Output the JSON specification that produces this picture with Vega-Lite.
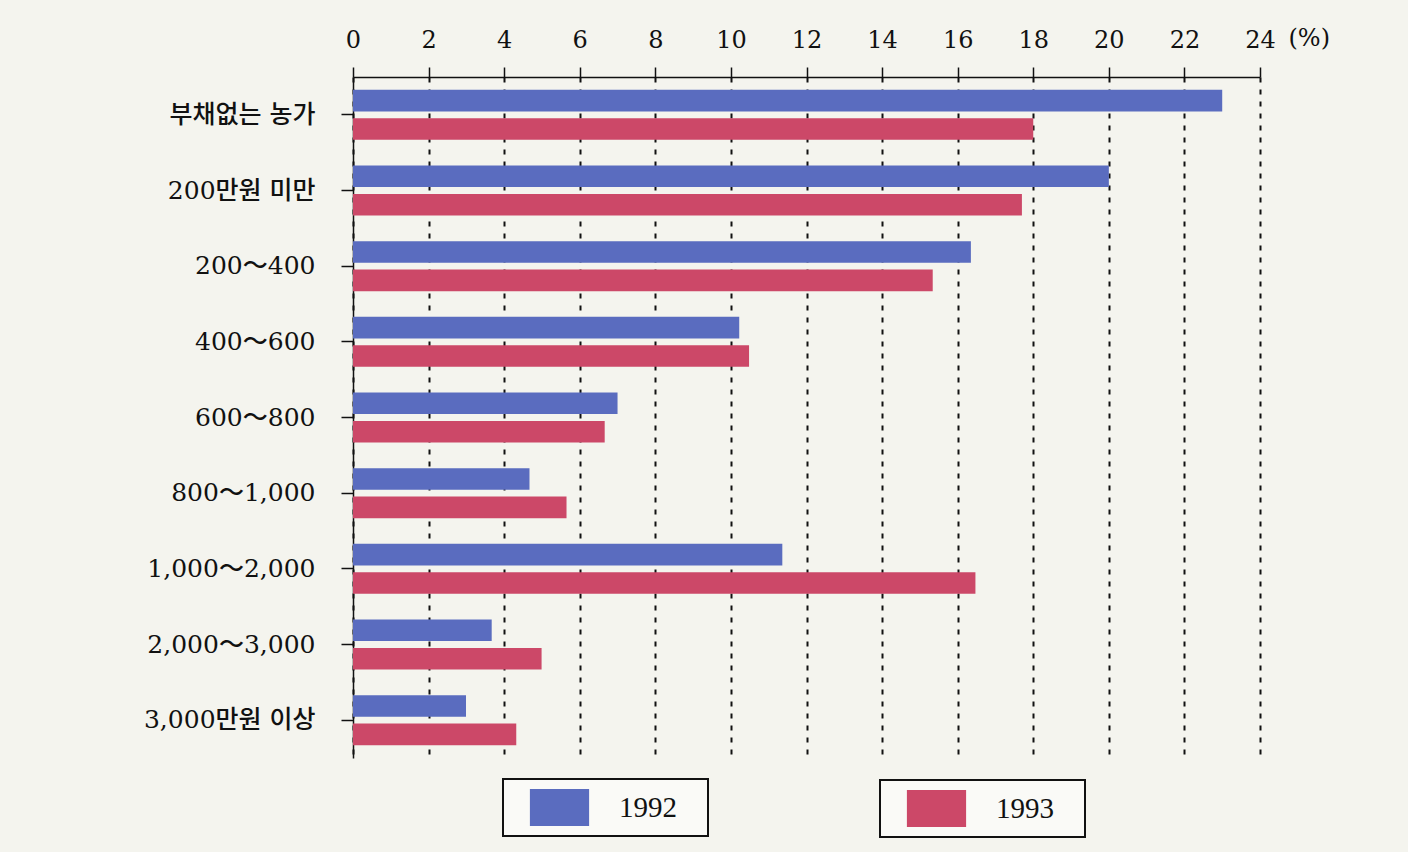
{
  "$schema": "https://vega.github.io/schema/vega-lite/v6.json",
  "width": 907,
  "height": 681,
  "autosize": {"type": "none"},
  "padding": {"left": 353, "top": 77, "right": 148, "bottom": 94},
  "background": "#f4f4ee",
  "config": {"view": {"stroke": null}},
  "data": {
    "values": [
      {"group": "부채없는 농가", "year": "1992", "pct": 23.0},
      {"group": "부채없는 농가", "year": "1993", "pct": 18.0},
      {"group": "200만원 미만", "year": "1992", "pct": 20.0},
      {"group": "200만원 미만", "year": "1993", "pct": 17.7},
      {"group": "200～400", "year": "1992", "pct": 16.35},
      {"group": "200～400", "year": "1993", "pct": 15.34},
      {"group": "400～600", "year": "1992", "pct": 10.22},
      {"group": "400～600", "year": "1993", "pct": 10.48},
      {"group": "600～800", "year": "1992", "pct": 7.0},
      {"group": "600～800", "year": "1993", "pct": 6.66},
      {"group": "800～1,000", "year": "1992", "pct": 4.67},
      {"group": "800～1,000", "year": "1993", "pct": 5.65},
      {"group": "1,000～2,000", "year": "1992", "pct": 11.36},
      {"group": "1,000～2,000", "year": "1993", "pct": 16.47},
      {"group": "2,000～3,000", "year": "1992", "pct": 3.67},
      {"group": "2,000～3,000", "year": "1993", "pct": 4.99},
      {"group": "3,000만원 이상", "year": "1992", "pct": 2.99},
      {"group": "3,000만원 이상", "year": "1993", "pct": 4.32}
    ]
  },
  "encoding": {
    "y": {
      "field": "group",
      "type": "nominal",
      "sort": ["부채없는 농가", "200만원 미만", "200～400", "400～600", "600～800", "800～1,000", "1,000～2,000", "2,000～3,000", "3,000만원 이상"],
      "scale": {"paddingInner": 0.34, "paddingOuter": 0.17},
      "axis": {
        "title": null,
        "domainColor": "#111",
        "domainWidth": 1.5,
        "tickSize": 12,
        "tickColor": "#111",
        "tickWidth": 1.5,
        "labelFont": "DejaVu Serif, Noto Sans CJK KR",
        "labelFontSize": 25,
        "labelFontWeight": 500,
        "labelColor": "#111",
        "labelPadding": 26,
        "labelLimit": 320
      }
    },
    "x": {
      "field": "pct",
      "type": "quantitative",
      "scale": {"domain": [0, 24], "nice": false},
      "axis": {
        "orient": "top",
        "values": [0, 2, 4, 6, 8, 10, 12, 14, 16, 18, 20, 22, 24],
        "title": "(%)",
        "titleX": 935,
        "titleY": -39,
        "titleAlign": "left",
        "titleBaseline": "middle",
        "titleAngle": 0,
        "titleFont": "DejaVu Serif",
        "titleFontSize": 24,
        "titleFontWeight": "normal",
        "titleColor": "#111",
        "labelFont": "DejaVu Serif",
        "labelFontSize": 24,
        "labelColor": "#111",
        "labelBaseline": "alphabetic",
        "labelPadding": 20,
        "labelFlush": false,
        "tickSize": 10,
        "tickColor": "#111",
        "tickWidth": 1.5,
        "domainColor": "#111",
        "domainWidth": 1.5,
        "grid": true,
        "gridDash": [5, 7],
        "gridColor": "#111",
        "gridWidth": 2
      }
    },
    "yOffset": {
      "field": "year",
      "type": "nominal",
      "scale": {"domain": ["1992", "1993"], "paddingInner": 0.24, "paddingOuter": 0}
    }
  },
  "layer": [
    {
      "transform": [{"filter": "datum.year == '1992'"}],
      "mark": {"type": "bar"},
      "encoding": {
        "color": {
          "field": "year",
          "type": "nominal",
          "scale": {"domain": ["1992"], "range": ["#5a6cbf"]},
          "legend": {
            "orient": "none",
            "legendX": 150,
            "legendY": 702,
            "title": null,
            "padding": 10,
            "fillColor": "#fafaf7",
            "strokeColor": "#111",
            "symbolType": "M-1.6,-1L1.6,-1L1.6,1L-1.6,1Z",
            "symbolSize": 1369,
            "symbolStrokeWidth": 0,
            "symbolOpacity": 1,
            "symbolOffset": 28,
            "labelFont": "Liberation Serif",
            "labelFontSize": 29,
            "labelColor": "#111",
            "labelOffset": 41,
            "labelExpr": "datum.label + '\u2800'",
            "encode": {"legend": {"update": {"strokeWidth": {"value": 2}}}}
          }
        }
      }
    },
    {
      "transform": [{"filter": "datum.year == '1993'"}],
      "mark": {"type": "bar"},
      "encoding": {
        "fill": {
          "field": "year",
          "type": "nominal",
          "scale": {"domain": ["1993"], "range": ["#cc4868"]},
          "legend": {
            "orient": "none",
            "legendX": 527,
            "legendY": 703,
            "title": null,
            "padding": 10,
            "fillColor": "#fafaf7",
            "strokeColor": "#111",
            "symbolType": "M-1.6,-1L1.6,-1L1.6,1L-1.6,1Z",
            "symbolSize": 1369,
            "symbolStrokeWidth": 0,
            "symbolOpacity": 1,
            "symbolOffset": 28,
            "labelFont": "Liberation Serif",
            "labelFontSize": 29,
            "labelColor": "#111",
            "labelOffset": 41,
            "labelExpr": "datum.label + '\u2800'",
            "encode": {"legend": {"update": {"strokeWidth": {"value": 2}}}}
          }
        }
      }
    }
  ]
}
